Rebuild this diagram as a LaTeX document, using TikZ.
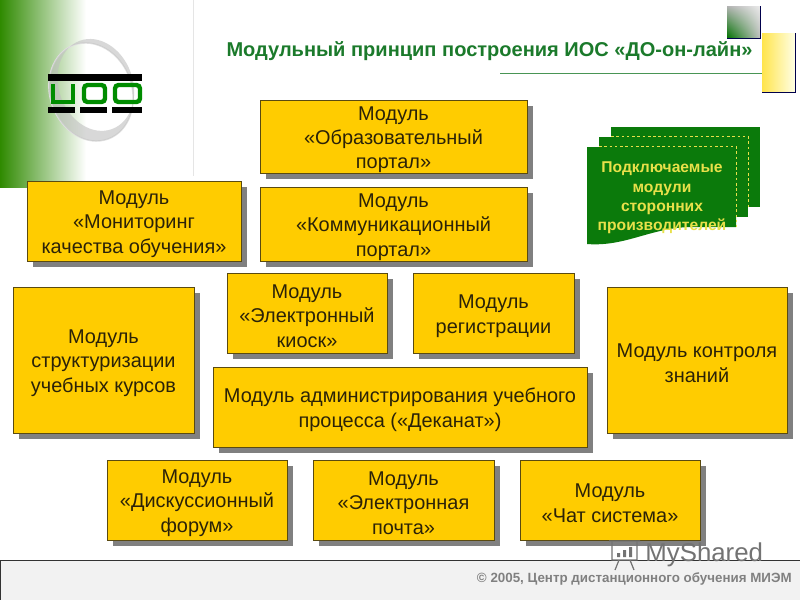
\documentclass[tikz,border=0pt]{standalone}
\usepackage{fontspec}
\setmainfont{Liberation Sans}
\usetikzlibrary{shadows,shadings}
\definecolor{modfill}{HTML}{FFCC00}
\definecolor{modline}{HTML}{5A4A10}
\definecolor{modtext}{HTML}{2B2208}
\definecolor{modshadow}{HTML}{808080}
\definecolor{sheetgreen}{HTML}{0B7A0B}
\definecolor{titlegreen}{HTML}{1B7A2B}
\definecolor{sheettext}{HTML}{E8E04A}
\definecolor{cornergreen}{HTML}{2F8A00}
\newcommand{\modword}{\rule{0pt}{11.4pt}Модуль}
\tikzset{
  modbox/.style={draw=modline,fill=modfill,line width=0.5pt,inner sep=0pt,align=center,text=modtext,
    font=\fontsize{11.35}{13.9}\selectfont,
    drop shadow={shadow xshift=0.125cm,shadow yshift=-0.125cm,fill=modshadow,opacity=1}},
  sheet/.style={fill=sheetgreen},
  sheetedge/.style={draw=sheettext,line width=0.35pt,dash pattern=on 1.5pt off 1.5pt},
  logobar/.style={fill=black},
  logostroke/.style={draw=green!55!black,line width=2.5pt}
}
\begin{document}
\begin{tikzpicture}[x=0.02cm,y=-0.02cm]
\useasboundingbox (0,0) rectangle (800,600);
\fill[white] (0,0) rectangle (800,600);
% top left corner
\shade[left color=cornergreen,right color=white] (0,0) rectangle (86,187);
\draw[black!10,line width=0.4pt] (193,0) -- (193,176);
% logo
\draw[black!12,line width=0.8pt,rotate around={20:(91,92)}] (91,92) ellipse (41 and 50);
\fill[black!25,opacity=.6,even odd rule,rotate around={20:(91,92)}] (91,92) ellipse (41 and 50) (98,87) ellipse (37 and 47);
\fill[logobar] (48,74) rectangle (142,81);
\fill[logobar] (48,107) rectangle (75,113);
\fill[logobar] (80,107) rectangle (107,113);
\fill[logobar] (112,107) rectangle (142,113);
\draw[logostroke] (53,84) -- (53,102) -- (73,102) -- (73,84);
\draw[logostroke,rounded corners=2pt] (84,85) rectangle (105,102);
\draw[logostroke,rounded corners=2pt] (115,85) rectangle (140,102);
% title
\node (title) at (489.5,51) {\color{titlegreen}\fontsize{11.4}{13}\selectfont\bfseries Модульный принцип построения ИОС «ДО-он-лайн»};
\draw[titlegreen!80,line width=0.4pt] (500,73.5) -- (765,73.5);
\shade[lower left=green!45!black,upper right=black!8,lower right=black!25,upper left=black!30] (727,6) rectangle (760,38);
\draw[black!70!blue,line width=0.5pt] (760,6) -- (760,38) -- (727,38);
\shade[left color=yellow!70!orange!70,right color=yellow!10] (762,33) rectangle (795,92);
\draw[black!70!blue,line width=0.5pt] (795,33) -- (795,92) -- (762,92);
% sheets
\fill[sheet] (611,127) rectangle (760,207);
\fill[sheet] (599,137) rectangle (748,217);
\fill[sheet] (587,147) -- (736,147) -- (736,227) -- (690,227) .. controls (650,228) and (625,247) .. (587,244) -- cycle;
\draw[sheetedge] (611,136) -- (748,136) -- (748,207);
\draw[sheetedge] (599,146) -- (736,146) -- (736,227);
\node[text=sheettext,font=\fontsize{8.9}{11}\selectfont\bfseries,align=center,inner sep=0pt] (thirdparty) at (662,198) {Подключаемые\\модули\\сторонних\\производителей};
% modules
\node[modbox,minimum width=5.34cm,minimum height=1.46cm] (portal) at (393.5,136.5) {\modword\\«Образовательный\\портал»};
\node[modbox,minimum width=5.34cm,minimum height=1.48cm] (comm) at (393.5,224) {\modword\\«Коммуникационный\\портал»};
\node[modbox,minimum width=4.28cm,minimum height=1.6cm] (quality) at (134,221) {\modword\\«Мониторинг\\качества обучения»};
\node[modbox,minimum width=3.62cm,minimum height=2.92cm] (courses) at (103.5,360) {\modword\\структуризации\\учебных курсов};
\node[modbox,minimum width=3.2cm,minimum height=1.6cm] (kiosk) at (307,313) {\modword\\«Электронный\\киоск»};
\node[modbox,minimum width=3.22cm,minimum height=1.6cm] (reg) at (493.5,313) {\modword\\регистрации};
\node[modbox,minimum width=7.48cm,minimum height=1.6cm] (dean) at (400,407) {\modword{} администрирования учебного\\процесса («Деканат»)};
\node[modbox,minimum width=3.6cm,minimum height=2.92cm] (control) at (697,360) {\modword{} контроля\\знаний};
\node[modbox,minimum width=3.6cm,minimum height=1.6cm] (forum) at (197,500) {\modword\\«Дискуссионный\\форум»};
\node[modbox,minimum width=3.62cm,minimum height=1.6cm] (mail) at (403.5,500) {\modword\\«Электронная\\почта»};
\node[modbox,minimum width=3.6cm,minimum height=1.6cm] (chat) at (610,500) {\modword\\«Чат система»};
% footer
\fill[black!5] (0,560) rectangle (800,600);
\draw[black!80,line width=0.5pt] (800,560) -- (0,560) -- (0,600);
\node[text=black!50,font=\fontsize{7.6}{9}\selectfont\bfseries,inner sep=0pt,anchor=east] (copyright) at (792,578.5) {© 2005, Центр дистанционного обучения МИЭМ};
% watermark
\draw[black!55,line width=0.7pt] (609,541) -- (640,541) (612,541) rectangle (637,560) (619,560) -- (615,570) (630,560) -- (634,570);
\fill[black!55] (617,553) rectangle (620,557) (623,550) rectangle (626,557) (629,547) rectangle (632,557);
\node[text=black!55,font=\fontsize{14.7}{16}\selectfont,inner sep=0pt,anchor=west] (watermark) at (645,555) {MyShared};
\end{tikzpicture}
\end{document}
